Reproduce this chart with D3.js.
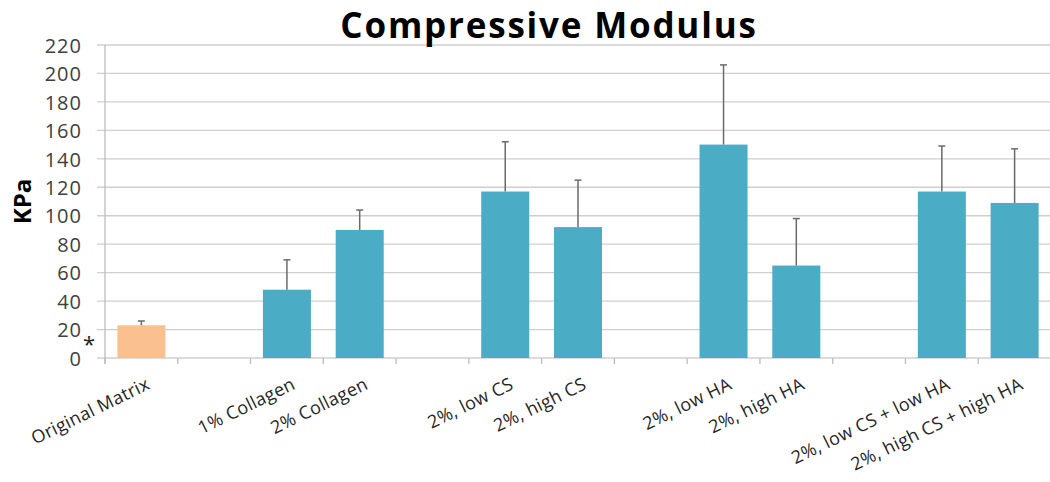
<!DOCTYPE html>
<html><head><meta charset="utf-8">
<script src="https://cdn.jsdelivr.net/npm/d3@7"></script>
<style>
html,body{margin:0;padding:0;background:#fff;overflow:hidden}
text{font-family:"Open Sans",sans-serif}
</style></head>
<body><svg id="c" width="1050" height="482"></svg>
<script>
const categories = ["Original Matrix","","1% Collagen","2% Collagen","","2%, low CS","2%, high CS","","2%, low HA","2%, high HA","","2%, low CS + low HA","2%, high CS + high HA"];
const values     = [23, null, 48, 90, null, 117, 92, null, 150, 65, null, 117, 109];
const errorTop   = [26, null, 69, 104, null, 152, 125, null, 206, 98, null, 149, 147];
const yTicks     = [0,20,40,60,80,100,120,140,160,180,200,220];
const title = "Compressive Modulus";
const yLabel = "KPa";

const svg = d3.select("#c");
const pLeft = 105, pRight = 1051, pTop = 45, pBottom = 358;
const x = d3.scaleBand().domain(d3.range(categories.length)).range([pLeft, pRight]).paddingInner(0.34).paddingOuter(0.17);
const xb = d3.scaleBand().domain(d3.range(categories.length)).range([pLeft, pRight]);
const y = d3.scaleLinear().domain([0, 220]).range([pBottom, pTop]);

// gridlines
svg.append("g").selectAll("line").data(yTicks).join("line")
  .attr("x1", pLeft - 8).attr("x2", pRight)
  .attr("y1", d => y(d)).attr("y2", d => y(d))
  .attr("stroke", "#cfcfcf").attr("stroke-width", 1.3);

// y axis labels
const ya = d3.axisLeft(y).tickValues(yTicks).tickSize(0).tickPadding(23);
const yg = svg.append("g").attr("transform", `translate(${pLeft},0)`).call(ya);
yg.select(".domain").remove();
yg.selectAll("text").attr("font-size", 20).attr("letter-spacing", "1px").attr("fill", "#404040")
  .attr("font-family", "Open Sans").attr("dy", "0.36em");

// vertical axis line
svg.append("line").attr("x1", pLeft).attr("x2", pLeft).attr("y1", pTop).attr("y2", pBottom + 6)
  .attr("stroke", "#bdbdbd").attr("stroke-width", 1.3);

// x tick marks at band boundaries
const bounds = d3.range(categories.length + 1).map(i => i < categories.length ? xb(i) : xb.range()[1]);
svg.append("g").selectAll("line").data(bounds).join("line")
  .attr("x1", d => d).attr("x2", d => d).attr("y1", pBottom).attr("y2", pBottom + 6)
  .attr("stroke", "#bdbdbd").attr("stroke-width", 1.3);

// bars
const idx = d3.range(categories.length).filter(i => values[i] != null);
svg.append("g").selectAll("rect").data(idx).join("rect")
  .attr("x", i => x(i)).attr("width", x.bandwidth())
  .attr("y", i => y(values[i])).attr("height", i => y(0) - y(values[i]))
  .attr("fill", i => i === 0 ? "#fac08f" : "#4bacc6");

// error bars
const eg = svg.append("g").attr("stroke", "#6a6a6a").attr("stroke-width", 1.5);
eg.selectAll(".v").data(idx).join("line").attr("class","v")
  .attr("x1", i => x(i) + x.bandwidth()/2).attr("x2", i => x(i) + x.bandwidth()/2)
  .attr("y1", i => y(values[i])).attr("y2", i => y(errorTop[i]));
eg.selectAll(".h").data(idx).join("line").attr("class","h")
  .attr("x1", i => x(i) + x.bandwidth()/2 - 3.5).attr("x2", i => x(i) + x.bandwidth()/2 + 3.5)
  .attr("y1", i => y(errorTop[i])).attr("y2", i => y(errorTop[i]));

// x labels
svg.append("g").selectAll("text").data(idx).join("text")
  .attr("transform", i => `translate(${xb(i) + xb.bandwidth()/2 + 4},${pBottom + 19}) rotate(-26)`)
  .attr("text-anchor", "end").attr("dy", "0.7em")
  .attr("font-size", 18).attr("letter-spacing", "0.3px").attr("fill", "#262626")
  .text(i => categories[i]);

// asterisk
svg.append("text").attr("x", 83).attr("y", y(20) + 22).attr("text-anchor", "start")
  .attr("font-size", 22).attr("fill", "#222").text("*");

// title
svg.append("text").attr("x", 549).attr("y", 38).attr("text-anchor", "middle")
  .attr("font-size", 35).attr("letter-spacing", "1.8px").attr("font-weight", "bold").attr("fill", "#000").text(title);

// y label
svg.append("text").attr("transform", `translate(31,${(pTop+pBottom)/2}) rotate(-90)`)
  .attr("text-anchor", "middle").attr("font-size", 24).attr("font-weight", "bold").attr("fill", "#000").text(yLabel);
</script></body></html>
